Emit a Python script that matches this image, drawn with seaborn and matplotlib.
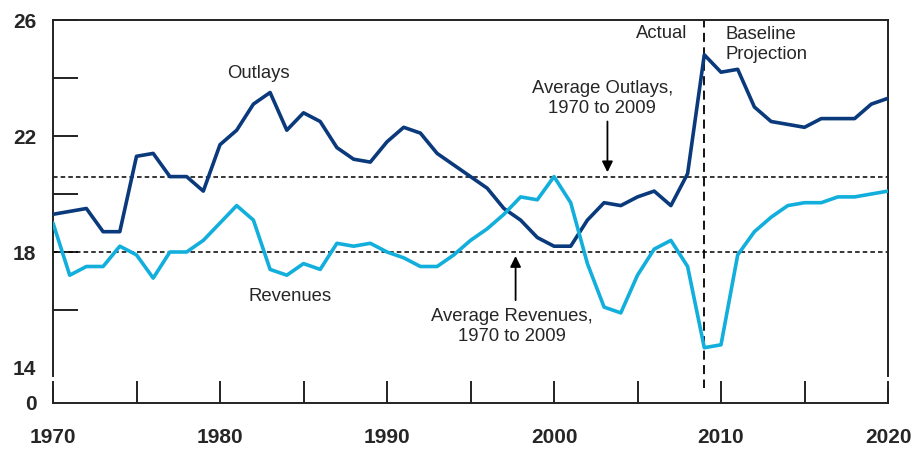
import matplotlib
matplotlib.use("Agg")
import pandas as pd
import matplotlib.pyplot as plt
import seaborn as sns

# Data (percentage of GDP)
years = list(range(1970, 2021))
outlays = [19.3, 19.4, 19.5, 18.7, 18.7, 21.3, 21.4, 20.6, 20.6, 20.1,
           21.7, 22.2, 23.1, 23.5, 22.2, 22.8, 22.5, 21.6, 21.2, 21.1,
           21.8, 22.3, 22.1, 21.4, 21.0, 20.6, 20.2, 19.5, 19.1, 18.5,
           18.2, 18.2, 19.1, 19.7, 19.6, 19.9, 20.1, 19.6, 20.7, 24.8,
           24.2, 24.3, 23.0, 22.5, 22.4, 22.3, 22.6, 22.6, 22.6, 23.1, 23.3]
revenues = [19.0, 17.2, 17.5, 17.5, 18.2, 17.9, 17.1, 18.0, 18.0, 18.4,
            19.0, 19.6, 19.1, 17.4, 17.2, 17.6, 17.4, 18.3, 18.2, 18.3,
            18.0, 17.8, 17.5, 17.5, 17.9, 18.4, 18.8, 19.3, 19.9, 19.8,
            20.6, 19.7, 17.6, 16.1, 15.9, 17.2, 18.1, 18.4, 17.5, 14.7,
            14.8, 17.9, 18.7, 19.2, 19.6, 19.7, 19.7, 19.9, 19.9, 20.0, 20.1]
avg_outlays = 20.6
avg_revenues = 18.0
split_year = 2009

y_ticks = [14, 16, 18, 20, 22, 24, 26]
y_labels = ['14', '', '18', '', '22', '', '26']
x_ticks = list(range(1970, 2021, 5))
x_labels = ['1970', '', '1980', '', '1990', '', '2000', '', '2010', '', '2020']

navy = '#0a3a7c'
cyan = '#12aedc'

df = pd.DataFrame({'Year': years, 'Outlays': outlays, 'Revenues': revenues})
long_df = df.melt('Year', var_name='Series', value_name='Share')

sns.set_style('white')
plt.rcParams['font.family'] = ['Liberation Sans', 'DejaVu Sans']

W, H = 911, 454
fig = plt.figure(figsize=(W / 100, H / 100), dpi=100)
ax = fig.add_axes([53 / W, 1 - 376 / H, 835 / W, 356 / H])
axb = fig.add_axes([53 / W, 1 - 403 / H, 835 / W, 15 / H])

sns.lineplot(data=long_df, x='Year', y='Share', hue='Series',
             palette={'Outlays': navy, 'Revenues': cyan},
             linewidth=2.6, legend=False, ax=ax, zorder=3)

ax.set_xlim(1970, 2020)
ax.set_ylim(14 - 8 / 29, 26)
ax.set_xlabel('')
ax.set_ylabel('')
ax.set_xticks([])
ax.set_yticks(y_ticks)
ax.set_yticklabels(y_labels, fontweight='bold')
ax.tick_params(axis='y', left=True, direction='in', length=18, width=1.4,
               pad=12, labelsize=15, color='#222222')
ax.yaxis.get_major_ticks()[0].tick1line.set_visible(False)
ax.spines['bottom'].set_visible(False)
for s in ['left', 'top', 'right']:
    ax.spines[s].set_linewidth(1.4)
    ax.spines[s].set_color('#222222')

# reference lines
dots = (0, (3, 2))
ax.axhline(avg_outlays, color='black', ls=dots, lw=1.1, zorder=1)
ax.axhline(avg_revenues, color='black', ls=dots, lw=1.1, zorder=1)
ax.axvline(split_year, ymin=-27 / 356, ymax=1, clip_on=False,
           color='black', ls=(0, (5, 3)), lw=1.3, zorder=2)

# bottom stub of the broken axis
axb.set_xlim(1970, 2020)
axb.set_ylim(0, 1)
axb.set_xticks(x_ticks)
axb.set_xticklabels(x_labels, fontweight='bold')
axb.set_yticks([0])
axb.set_yticklabels(['0'], fontweight='bold')
axb.tick_params(axis='x', bottom=True, direction='in', length=16, width=1.4,
                pad=18, labelsize=15, color='#222222')
axb.tick_params(axis='y', left=True, length=0, pad=12, labelsize=15)
axb.spines['top'].set_visible(False)
for s in ['left', 'bottom', 'right']:
    axb.spines[s].set_linewidth(1.4)
    axb.spines[s].set_color('#222222')

# annotations
fs = 13.3
ax.text(1982.3, 24.17, 'Outlays', ha='center', va='center', fontsize=fs)
ax.text(1984.2, 16.45, 'Revenues', ha='center', va='center', fontsize=fs)
ax.text(2002.9, 23.3, 'Average Outlays,\n1970 to 2009', ha='center',
        va='center', fontsize=fs, linespacing=1.25)
ax.text(1997.5, 15.43, 'Average Revenues,\n1970 to 2009', ha='center',
        va='center', fontsize=fs, linespacing=1.25)
ax.text(2008.0, 25.52, 'Actual', ha='right', va='center', fontsize=fs)
ax.text(2010.25, 25.15, 'Baseline\nProjection', ha='left', va='center',
        fontsize=fs, linespacing=1.25)

arrow = dict(arrowstyle='-|>', color='black', lw=1.3, mutation_scale=16,
             shrinkA=0, shrinkB=0)
ax.annotate('', xy=(2003.2, 20.75), xytext=(2003.2, 22.5), arrowprops=arrow)
ax.annotate('', xy=(1997.7, 17.86), xytext=(1997.7, 16.34), arrowprops=arrow)

fig.savefig('out.png', dpi=100)
